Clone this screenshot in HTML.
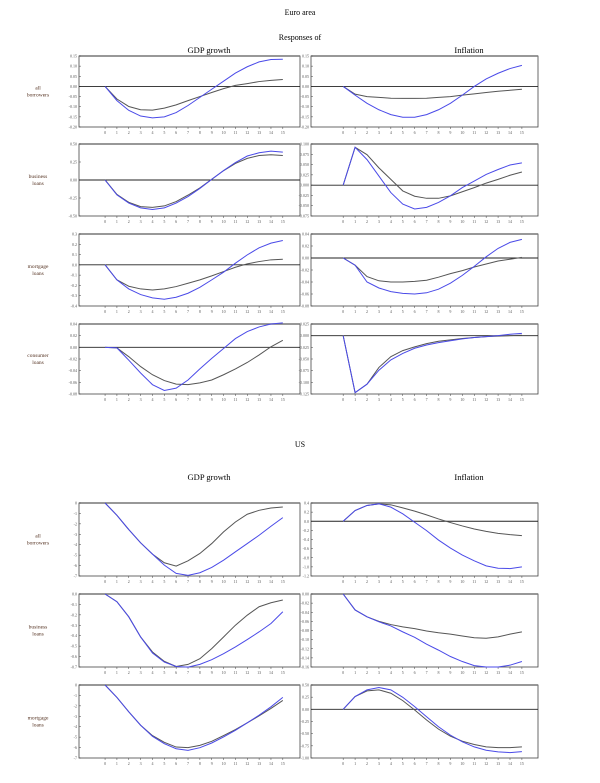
<!DOCTYPE html>
<html><head><meta charset="utf-8"><style>
html,body{margin:0;padding:0;background:#fff;}
svg{display:block;font-family:"Liberation Serif",serif;}
</style></head><body>
<svg id="fig" width="600" height="783" viewBox="0 0 600 783" xmlns="http://www.w3.org/2000/svg">
<text x="300" y="15" text-anchor="middle" font-size="8">Euro area</text>
<text x="300" y="40" text-anchor="middle" font-size="8">Responses of</text>
<text x="209" y="53" text-anchor="middle" font-size="8.5">GDP growth</text>
<text x="469" y="53" text-anchor="middle" font-size="8.5">Inflation</text>
<text x="300" y="447" text-anchor="middle" font-size="8">US</text>
<text x="209" y="480" text-anchor="middle" font-size="8.5">GDP growth</text>
<text x="469" y="480" text-anchor="middle" font-size="8.5">Inflation</text>
</svg>
<script>
const horizons=[0,1,2,3,4,5,6,7,8,9,10,11,12,13,14,15];
const rowLabels=[["all","borrowers"],["business","loans"],["mortgage","loans"],["consumer","loans"],["all","borrowers"],["business","loans"],["mortgage","loans"]];
// Euro area
const euGdpAllBlue=[0,-0.070,-0.118,-0.146,-0.155,-0.150,-0.129,-0.094,-0.054,-0.014,0.026,0.066,0.097,0.121,0.133,0.134];
const euGdpAllBlack=[0,-0.062,-0.099,-0.115,-0.117,-0.107,-0.091,-0.070,-0.050,-0.030,-0.011,0.005,0.014,0.024,0.030,0.034];
const euInfAllBlue=[0,-0.043,-0.083,-0.115,-0.139,-0.152,-0.152,-0.139,-0.115,-0.083,-0.043,0,0.037,0.065,0.088,0.104];
const euInfAllBlack=[0,-0.038,-0.050,-0.054,-0.058,-0.059,-0.059,-0.058,-0.054,-0.050,-0.043,-0.037,-0.030,-0.024,-0.019,-0.014];
const euGdpBusBlue=[0,-0.207,-0.320,-0.387,-0.410,-0.387,-0.320,-0.230,-0.117,0.009,0.131,0.243,0.333,0.378,0.401,0.387];
const euGdpBusBlack=[0,-0.20,-0.31,-0.37,-0.38,-0.36,-0.30,-0.21,-0.11,0.01,0.13,0.23,0.30,0.34,0.35,0.34];
const euInfBusBlue=[0,0.092,0.062,0.022,-0.018,-0.046,-0.058,-0.054,-0.042,-0.026,-0.006,0.010,0.026,0.038,0.049,0.054];
const euInfBusBlack=[0,0.092,0.074,0.042,0.014,-0.014,-0.027,-0.032,-0.032,-0.026,-0.016,-0.006,0.005,0.014,0.024,0.032];
const euGdpMorBlue=[0,-0.146,-0.234,-0.289,-0.321,-0.334,-0.315,-0.276,-0.218,-0.146,-0.071,0.016,0.097,0.166,0.211,0.237];
const euGdpMorBlack=[0,-0.146,-0.208,-0.234,-0.244,-0.234,-0.211,-0.179,-0.146,-0.107,-0.065,-0.023,0.010,0.032,0.049,0.055];
const euInfMorBlue=[0,-0.012,-0.040,-0.050,-0.056,-0.059,-0.060,-0.058,-0.052,-0.042,-0.029,-0.014,0.002,0.016,0.026,0.031];
const euInfMorBlack=[0,-0.012,-0.031,-0.038,-0.040,-0.040,-0.039,-0.037,-0.032,-0.026,-0.021,-0.015,-0.010,-0.005,-0.002,0.001];
const euGdpConBlue=[0,-0.001,-0.022,-0.044,-0.064,-0.074,-0.070,-0.056,-0.037,-0.019,-0.002,0.015,0.027,0.035,0.040,0.042];
const euGdpConBlack=[0,-0.001,-0.016,-0.033,-0.047,-0.057,-0.063,-0.064,-0.061,-0.056,-0.047,-0.037,-0.026,-0.013,0.001,0.012];
const euInfConBlue=[0,-0.122,-0.104,-0.074,-0.052,-0.038,-0.027,-0.020,-0.015,-0.011,-0.007,-0.004,-0.002,0,0.003,0.005];
const euInfConBlack=[0,-0.122,-0.104,-0.068,-0.045,-0.032,-0.024,-0.017,-0.012,-0.009,-0.006,-0.004,-0.002,-0.001,0,0.001];
// US
const usGdpAllBlue=[0,-1.18,-2.55,-3.82,-4.90,-5.96,-6.75,-6.94,-6.69,-6.18,-5.48,-4.68,-3.89,-3.09,-2.23,-1.40];
const usGdpAllBlack=[0,-1.18,-2.55,-3.82,-4.90,-5.73,-6.05,-5.54,-4.84,-3.89,-2.77,-1.82,-1.08,-0.70,-0.48,-0.38];
const usInfAllBlue=[0,0.235,0.346,0.382,0.309,0.162,-0.022,-0.206,-0.412,-0.588,-0.742,-0.868,-0.978,-1.029,-1.037,-1.0];
const usInfAllBlack=[0,0.235,0.346,0.382,0.360,0.294,0.221,0.140,0.051,-0.029,-0.103,-0.169,-0.221,-0.265,-0.294,-0.316];
const usGdpBusBlue=[0,-0.074,-0.219,-0.412,-0.566,-0.653,-0.695,-0.701,-0.675,-0.630,-0.572,-0.508,-0.437,-0.363,-0.283,-0.170];
const usGdpBusBlack=[0,-0.074,-0.219,-0.412,-0.556,-0.646,-0.695,-0.675,-0.621,-0.524,-0.412,-0.299,-0.203,-0.122,-0.084,-0.058];
const usInfBusBlue=[0,-0.035,-0.050,-0.061,-0.070,-0.083,-0.095,-0.110,-0.123,-0.137,-0.148,-0.157,-0.160,-0.160,-0.156,-0.148];
const usInfBusBlack=[0,-0.035,-0.050,-0.060,-0.067,-0.072,-0.076,-0.081,-0.085,-0.088,-0.092,-0.096,-0.097,-0.094,-0.088,-0.083];
const usGdpMorBlue=[0,-1.19,-2.57,-3.86,-4.92,-5.63,-6.11,-6.27,-6.01,-5.56,-4.98,-4.34,-3.63,-2.89,-2.09,-1.19];
const usGdpMorBlack=[0,-1.19,-2.57,-3.86,-4.85,-5.50,-5.95,-6.01,-5.79,-5.40,-4.85,-4.27,-3.63,-2.96,-2.25,-1.48];
const usInfMorBlue=[0,0.262,0.400,0.448,0.400,0.248,0.055,-0.152,-0.358,-0.530,-0.668,-0.772,-0.840,-0.875,-0.889,-0.868];
const usInfMorBlack=[0,0.262,0.379,0.400,0.331,0.179,-0.014,-0.220,-0.407,-0.551,-0.655,-0.723,-0.772,-0.786,-0.786,-0.772];
// tick labels
const tk1=["0.15","0.10","0.05","0.00","-0.05","-0.10","-0.15","-0.20"];
const tkBusG=["0.50","0.25","0.00","-0.25","-0.50"];
const tkBusI=["0.100","0.075","0.050","0.025","0.000","-0.025","-0.050","-0.075"];
const tkMorG=["0.3","0.2","0.1","0.0","-0.1","-0.2","-0.3","-0.4"];
const tkMorI=["0.04","0.02","0.00","-0.02","-0.04","-0.06","-0.08"];
const tkConG=["0.04","0.02","0.00","-0.02","-0.04","-0.06","-0.08"];
const tkConI=["0.025","0.000","-0.025","-0.050","-0.075","-0.100","-0.125"];
const tkUsG=["0","-1","-2","-3","-4","-5","-6","-7"];
const tkUsIA=["0.4","0.2","0.0","-0.2","-0.4","-0.6","-0.8","-1.0","-1.2"];
const tkUsGB=["0.0","-0.1","-0.2","-0.3","-0.4","-0.5","-0.6","-0.7"];
const tkUsIB=["0.00","-0.02","-0.04","-0.06","-0.08","-0.10","-0.12","-0.14","-0.16"];
const tkUsIM=["0.50","0.25","0.00","-0.25","-0.50","-0.75","-1.00"];

const NS="http://www.w3.org/2000/svg";
const svg=document.getElementById('fig');
function mk(tag,attrs,parent){const e=document.createElementNS(NS,tag);for(const k in attrs)e.setAttribute(k,attrs[k]);(parent||svg).appendChild(e);return e;}
const rows=[[56,127],[144,216],[234,306],[324,394],[503,576],[594,667],[685,758]];
const cols=[{x0:79,x1:300,xmin:-2.2,xmax:16.45},{x0:311,x1:538,xmin:-2.7,xmax:16.35}];
const panels=[
 [0,0,tk1,euGdpAllBlue,euGdpAllBlack,'euro-gdp-all'],[0,1,tk1,euInfAllBlue,euInfAllBlack,'euro-inflation-all'],
 [1,0,tkBusG,euGdpBusBlue,euGdpBusBlack,'euro-gdp-business'],[1,1,tkBusI,euInfBusBlue,euInfBusBlack,'euro-inflation-business'],
 [2,0,tkMorG,euGdpMorBlue,euGdpMorBlack,'euro-gdp-mortgage'],[2,1,tkMorI,euInfMorBlue,euInfMorBlack,'euro-inflation-mortgage'],
 [3,0,tkConG,euGdpConBlue,euGdpConBlack,'euro-gdp-consumer'],[3,1,tkConI,euInfConBlue,euInfConBlack,'euro-inflation-consumer'],
 [4,0,tkUsG,usGdpAllBlue,usGdpAllBlack,'us-gdp-all'],[4,1,tkUsIA,usInfAllBlue,usInfAllBlack,'us-inflation-all'],
 [5,0,tkUsGB,usGdpBusBlue,usGdpBusBlack,'us-gdp-business'],[5,1,tkUsIB,usInfBusBlue,usInfBusBlack,'us-inflation-business'],
 [6,0,tkUsG,usGdpMorBlue,usGdpMorBlack,'us-gdp-mortgage'],[6,1,tkUsIM,usInfMorBlue,usInfMorBlack,'us-inflation-mortgage']
];
rows.forEach((r,i)=>{
 const t=mk('text',{x:38,y:(r[0]+r[1])/2-2,'text-anchor':'middle','font-size':5.5,fill:'#553322'});
 
 
 t.innerHTML='<tspan x="38">'+rowLabels[i][0]+'</tspan><tspan x="38" dy="7">'+rowLabels[i][1]+'</tspan>';
});
panels.forEach(p=>{
 const [ri,ci,ticks,blue,black,name]=p;
 const [y0,y1]=rows[ri];const c=cols[ci];
 const ymax=parseFloat(ticks[0]),ymin=parseFloat(ticks[ticks.length-1]);
 const sx=v=>c.x0+(v-c.xmin)/(c.xmax-c.xmin)*(c.x1-c.x0);
 const sy=v=>y0+(ymax-v)/(ymax-ymin)*(y1-y0);
 const g=mk('g',{});
 
 
 const box=mk('rect',{x:c.x0,y:y0,width:c.x1-c.x0,height:y1-y0,fill:'none',stroke:'#444','stroke-width':0.8},g);
 
 
 mk('line',{x1:c.x0,x2:c.x1,y1:y0,y2:y0,stroke:'#777','stroke-width':1.6},g);
 ticks.forEach(tl=>{
  const v=parseFloat(tl),yy=sy(v);
  mk('line',{x1:c.x0,x2:c.x0+2,y1:yy,y2:yy,stroke:'#444','stroke-width':0.5},g);
  const t=mk('text',{x:c.x0-2,y:yy+1.5,'text-anchor':'end','font-size':4,fill:'#555'},g);
  
  
  t.textContent=tl;
 });
 horizons.forEach(h=>{
  const xx=sx(h);
  mk('line',{x1:xx,x2:xx,y1:y1,y2:y1+2,stroke:'#444','stroke-width':0.5},g);
  const t=mk('text',{x:xx,y:y1+7,'text-anchor':'middle','font-size':4,fill:'#555'},g);
  
  
  t.textContent=h;
 });
 if(ymax>0&&ymin<0){
  const z=mk('line',{x1:c.x0,x2:c.x1,y1:sy(0),y2:sy(0),stroke:'#222','stroke-width':0.9},g);
  
  
 }
 const pb=mk('polyline',{points:black.map((v,i)=>sx(horizons[i])+','+sy(v)).join(' '),fill:'none',stroke:'#555','stroke-width':1},g);
 
 
 const pl=mk('polyline',{points:blue.map((v,i)=>sx(horizons[i])+','+sy(v)).join(' '),fill:'none',stroke:'#4a4ae8','stroke-width':1},g);
 
 
});
</script>
</body></html>
